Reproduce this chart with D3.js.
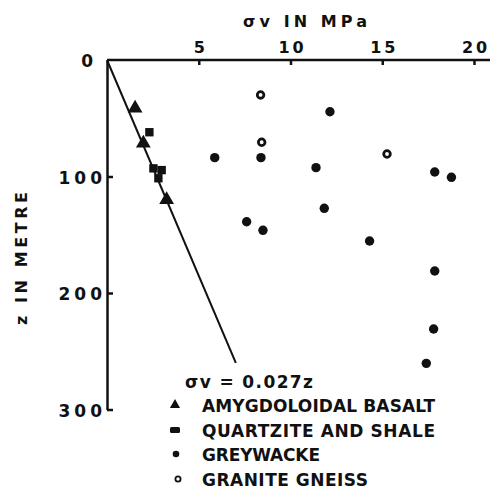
<!DOCTYPE html>
<html>
<head>
<meta charset="utf-8">
<script src="https://cdn.jsdelivr.net/npm/d3@7"></script>
<style>
  body { margin: 0; background: #fff; }
  text { font-family: "DejaVu Sans", sans-serif; font-weight: bold; fill: #111; }
  .axis path, .axis line { stroke: #111; stroke-width: 2.5; }
</style>
</head>
<body>
<script>
// data
var xTicks = [5, 10, 15, 20];
var yTicks = [0, 100, 200, 300];

// amygdoloidal basalt (triangles)
var basaltS = [1.53, 1.98, 3.25];
var basaltZ = [41.5, 71.5, 120];
// quartzite and shale (squares)
var quartzS = [2.31, 2.53, 2.98, 2.8];
var quartzZ = [62, 93, 94.5, 101.5];
// greywacke (filled circles)
var greyS = [12.15, 5.87, 8.39, 11.39, 17.86, 18.77, 11.84, 7.61, 8.5, 14.31, 17.86, 17.8, 17.4];
var greyZ = [44.4, 83.8, 83.8, 92.4, 96.1, 100.7, 127.3, 138.8, 146.2, 155.4, 181.1, 230.9, 260.4];
// granite gneiss (open circles)
var gneissS = [8.37, 8.43, 15.26];
var gneissZ = [30, 70.6, 80.7];

// fitted line sigma = 0.027 z
var slope = 0.027;
var lineZ = [0, 260];

var legendNames = ["AMYGDOLOIDAL BASALT", "QUARTZITE AND SHALE", "GREYWACKE", "GRANITE GNEISS"];

var width = 490, height = 490;

var svg = d3.select("body").append("svg")
    .attr("width", width)
    .attr("height", height);

var x = d3.scaleLinear().domain([0, 20]).range([107, 474]);
var y = d3.scaleLinear().domain([0, 300]).range([60, 409.5]);

// top axis, ticks pointing inward
var xAxis = d3.axisTop(x)
    .tickValues(xTicks)
    .tickSizeInner(-5)
    .tickSizeOuter(0)
    .tickPadding(7);
var gx = svg.append("g")
    .attr("class", "axis")
    .attr("transform", "translate(0," + y(0) + ")")
    .call(xAxis);
gx.select(".domain").attr("d", "M" + x(0) + ",0H" + (width));
gx.selectAll("text")
    .style("font-size", "16px")
    .attr("letter-spacing", "3px")
    .attr("dx", "1.5px");

// left axis
var yAxis = d3.axisLeft(y)
    .tickValues(yTicks)
    .tickSizeInner(-6)
    .tickSizeOuter(0)
    .tickPadding(5);
var gy = svg.append("g")
    .attr("class", "axis")
    .attr("transform", "translate(" + x(0) + ",0)")
    .call(yAxis);
gy.selectAll("text")
    .style("font-size", "17px")
    .attr("letter-spacing", "4px")
    .attr("dx", "4px")
    .attr("dy", "0.4em");
gy.selectAll(".tick").filter(function(d){ return d == 0; })
    .select("text").attr("x", -14);
gy.selectAll(".tick").filter(function(d){ return d == 0; })
    .select("line").remove();

// axis titles
svg.append("text")
    .attr("x", 243).attr("y", 27)
    .attr("textLength", 124).attr("lengthAdjust", "spacing")
    .style("font-size", "16px")
    .text("σv IN MPa");

svg.append("text")
    .attr("transform", "translate(27,325) rotate(-90)")
    .attr("textLength", 133).attr("lengthAdjust", "spacing")
    .style("font-size", "16px")
    .text("z IN METRE");

// fitted line
var line = d3.line()
    .x(function(d){ return x(d * slope); })
    .y(function(d){ return y(d); });
svg.append("path")
    .datum(lineZ)
    .attr("d", line)
    .attr("fill", "none")
    .attr("stroke", "#111")
    .attr("stroke-width", 2);

svg.append("text")
    .attr("x", 185).attr("y", 388)
    .attr("textLength", 128).attr("lengthAdjust", "spacing")
    .style("font-size", "17px")
    .text("σv = 0.027z");

// markers
var tri = d3.symbol().type(d3.symbolTriangle).size(95);
var sq = d3.symbol().type(d3.symbolSquare).size(70);

svg.selectAll(".basalt")
    .data(d3.range(basaltS.length))
    .enter().append("path")
    .attr("class", "basalt")
    .attr("d", tri)
    .attr("transform", function(i){ return "translate(" + x(basaltS[i]) + "," + y(basaltZ[i]) + ")"; })
    .attr("fill", "#111");

svg.selectAll(".quartz")
    .data(d3.range(quartzS.length))
    .enter().append("path")
    .attr("class", "quartz")
    .attr("d", sq)
    .attr("transform", function(i){ return "translate(" + x(quartzS[i]) + "," + y(quartzZ[i]) + ")"; })
    .attr("fill", "#111");

svg.selectAll(".grey")
    .data(d3.range(greyS.length))
    .enter().append("circle")
    .attr("class", "grey")
    .attr("cx", function(i){ return x(greyS[i]); })
    .attr("cy", function(i){ return y(greyZ[i]); })
    .attr("r", 4.7)
    .attr("fill", "#111");

svg.selectAll(".gneiss")
    .data(d3.range(gneissS.length))
    .enter().append("circle")
    .attr("class", "gneiss")
    .attr("cx", function(i){ return x(gneissS[i]); })
    .attr("cy", function(i){ return y(gneissZ[i]); })
    .attr("r", 3.3)
    .attr("fill", "#fff")
    .attr("stroke", "#111")
    .attr("stroke-width", 2.8);

// legend
var legY = [405, 430, 454, 479];
var legW = [233, 233, 118, 166];
var leg = svg.append("g");
leg.append("path").attr("d", d3.symbol().type(d3.symbolTriangle).size(45))
    .attr("transform", "translate(175," + legY[0] + ")").attr("fill", "#111");
leg.append("rect").attr("x", 170).attr("y", legY[1] - 3).attr("width", 10).attr("height", 6)
    .attr("rx", 1.5).attr("fill", "#111");
leg.append("circle").attr("cx", 176).attr("cy", legY[2]).attr("r", 3.3).attr("fill", "#111");
leg.append("circle").attr("cx", 178).attr("cy", legY[3]).attr("r", 2.6)
    .attr("fill", "#fff").attr("stroke", "#111").attr("stroke-width", 1.8);

leg.selectAll(".legtext")
    .data(legendNames)
    .enter().append("text")
    .attr("class", "legtext")
    .attr("x", 202)
    .attr("y", function(d, i){ return legY[i] + 6.5; })
    .attr("textLength", function(d, i){ return legW[i]; })
    .attr("lengthAdjust", "spacing")
    .style("font-size", "17px")
    .text(function(d){ return d; });
</script>
</body>
</html>
